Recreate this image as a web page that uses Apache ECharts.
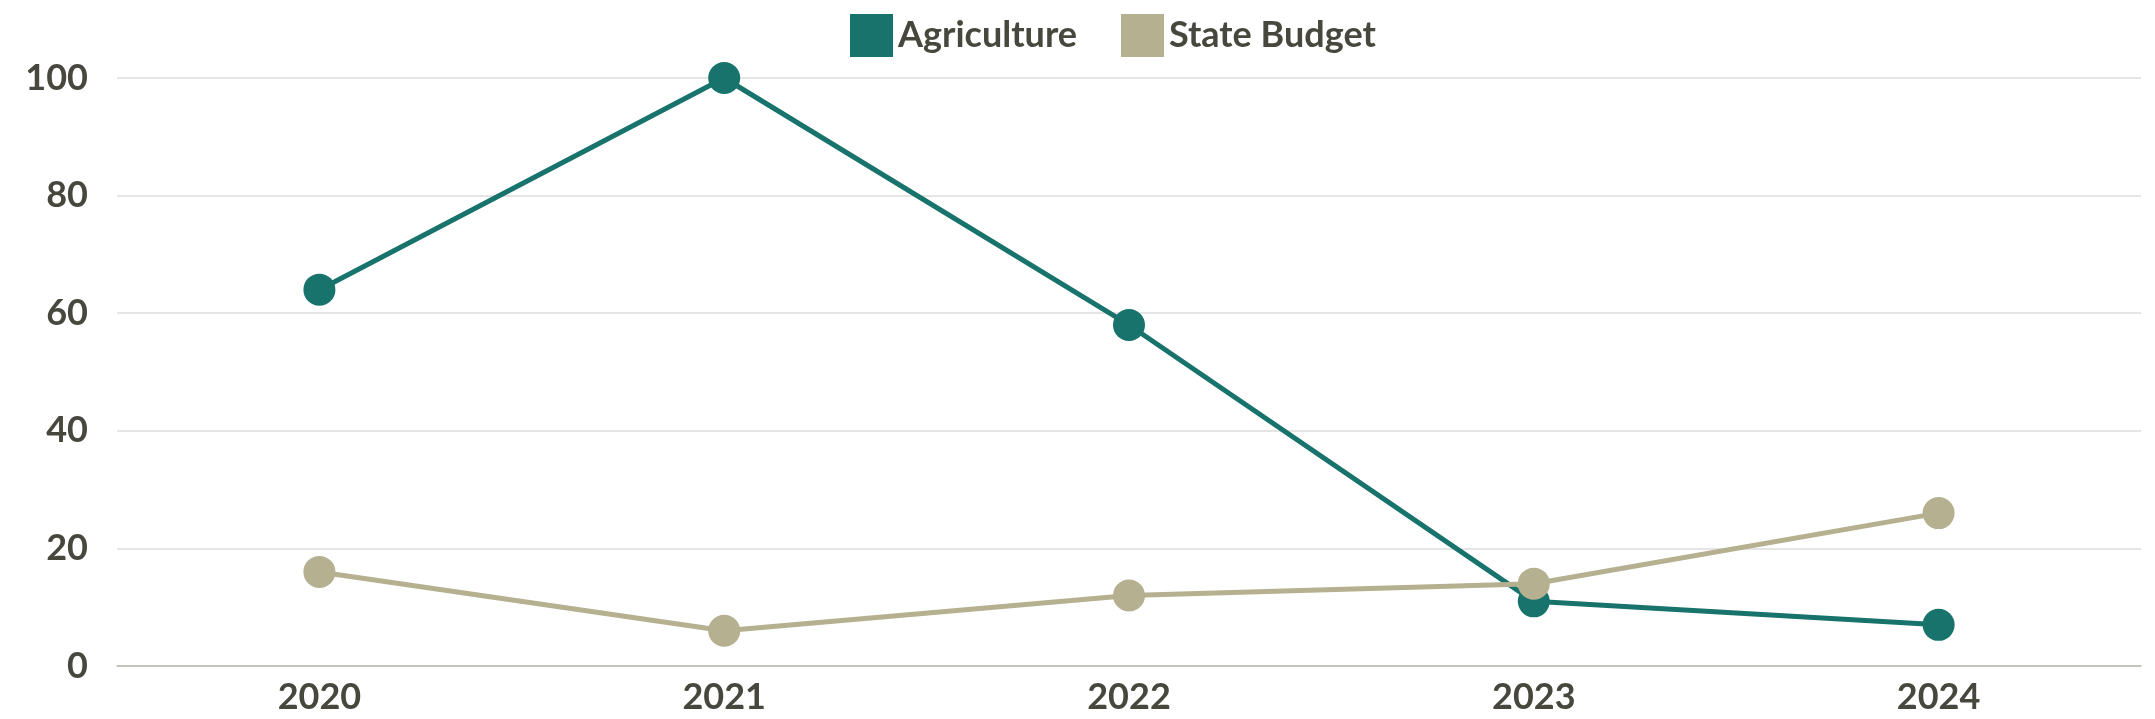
<!DOCTYPE html>
<html>
<head>
<meta charset="utf-8">
<script src="https://cdn.jsdelivr.net/npm/echarts@6/dist/echarts.min.js"></script>
<style>
html,body{margin:0;padding:0;background:#fff;}
#chart{width:2155px;height:719px;}
</style>
</head>
<body>
<div id="chart"></div>
<script>
const categories = ['2020', '2021', '2022', '2023', '2024'];
const agriculture = [64, 100, 58, 11, 7];
const stateBudget = [16, 6, 12, 14, 26];
const yTicks = [0, 20, 40, 60, 80, 100];

const textColor = '#47473d';
const fontFamily = 'Lato, "Noto Sans", sans-serif';

const chart = echarts.init(document.getElementById('chart'), null, {renderer: 'canvas'});
chart.setOption({
  animation: false,
  backgroundColor: '#ffffff',
  legend: {
    top: 14,
    left: 850,
    padding: 0,
    itemWidth: 43,
    itemHeight: 43,
    itemGap: 44,
    icon: 'rect',
    textStyle: {color: textColor, fontSize: 36, fontWeight: 'bold', fontFamily: fontFamily},
    data: ['Agriculture', 'State Budget']
  },
  grid: {left: 117, right: 14, top: 78, bottom: 53, containLabel: false},
  xAxis: {
    type: 'category',
    data: categories,
    boundaryGap: true,
    axisLine: {show: true, lineStyle: {color: '#b9b9b0', width: 1.5}},
    axisTick: {show: false},
    axisLabel: {color: textColor, fontSize: 36, fontWeight: 'bold', fontFamily: fontFamily, margin: 13}
  },
  yAxis: {
    type: 'value',
    min: yTicks[0],
    max: yTicks[yTicks.length - 1],
    interval: yTicks[1] - yTicks[0],
    axisLine: {show: false},
    axisTick: {show: false},
    splitLine: {lineStyle: {color: '#dcdcdc', width: 1.5}},
    axisLabel: {color: textColor, fontSize: 36, fontWeight: 'bold', fontFamily: fontFamily, margin: 29}
  },
  series: [
    {
      name: 'Agriculture',
      type: 'line',
      data: agriculture,
      color: '#17736b',
      symbol: 'circle',
      symbolSize: 32,
      lineStyle: {width: 5, color: '#17736b'},
      itemStyle: {color: '#17736b'},
      z: 2
    },
    {
      name: 'State Budget',
      type: 'line',
      data: stateBudget,
      color: '#b5b08f',
      symbol: 'circle',
      symbolSize: 32,
      lineStyle: {width: 5, color: '#b5b08f'},
      itemStyle: {color: '#b5b08f'},
      z: 3
    }
  ]
});
</script>
</body>
</html>
